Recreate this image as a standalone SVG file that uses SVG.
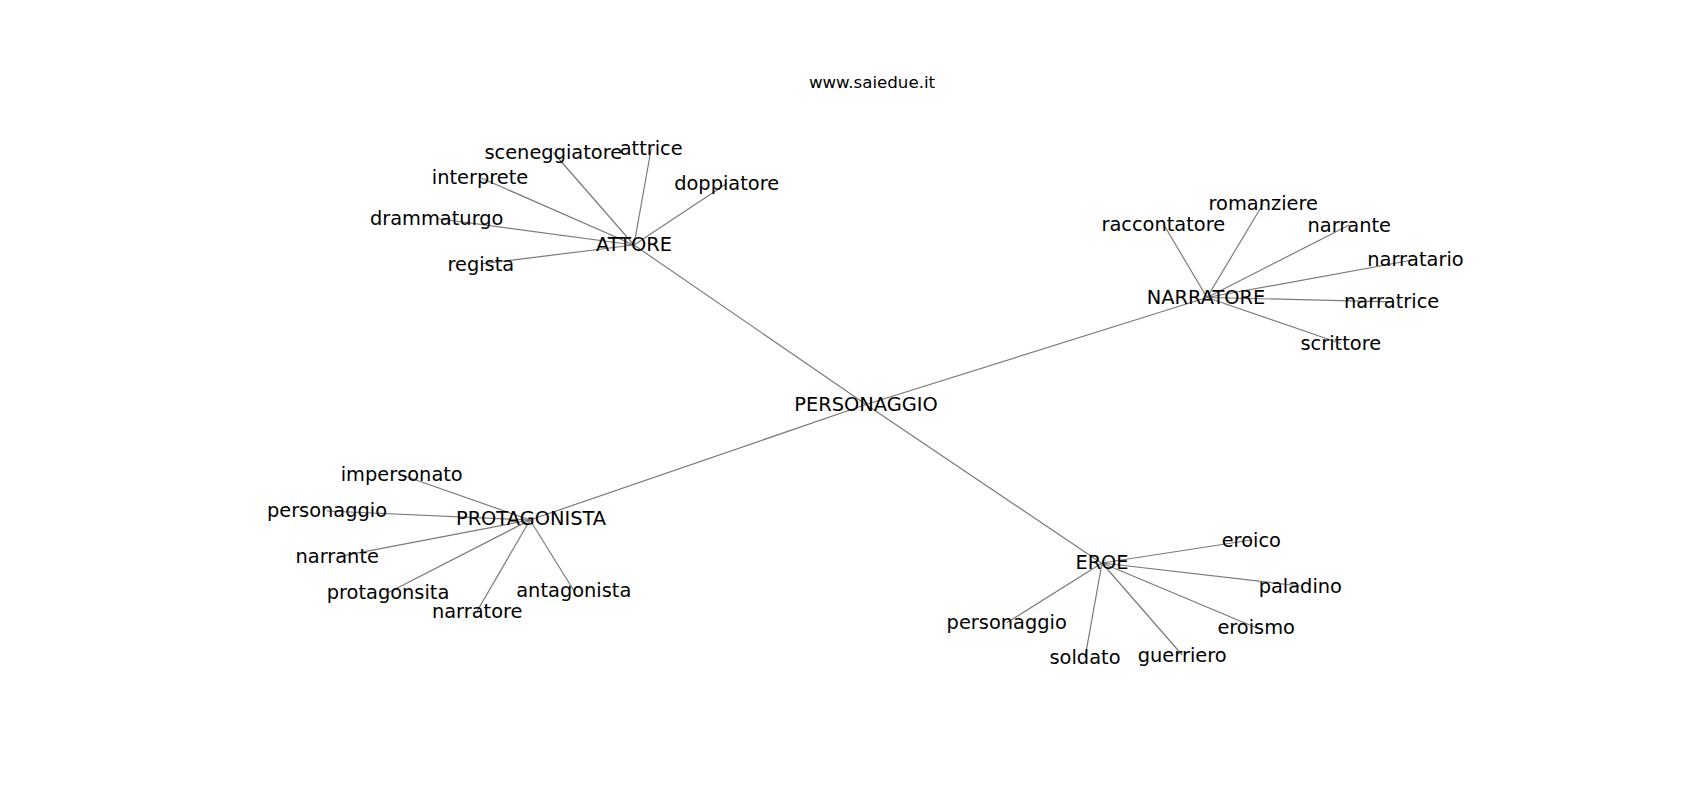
<svg xmlns="http://www.w3.org/2000/svg" width="1700" height="800" viewBox="0 0 1700 800">
<style>
text{font-family:"DejaVu Sans",sans-serif;fill:#000;text-anchor:middle}
.n{font-size:19.4px}
.t{font-size:16.67px}
#edges line{stroke:#7a7a7a;stroke-width:1.2}
</style>
<rect width="1700" height="800" fill="#fff"/>
<text class="t" x="872" y="88">www.saiedue.it</text>
<g id="edges">
<line x1="866" y1="404.5" x2="634" y2="245"/>
<line x1="866" y1="404.5" x2="1207" y2="297.5"/>
<line x1="866" y1="404.5" x2="530" y2="520"/>
<line x1="866" y1="404.5" x2="1102" y2="563.5"/>
<line x1="634" y1="245" x2="553.3" y2="152.5"/>
<line x1="634" y1="245" x2="651.2" y2="148.5"/>
<line x1="634" y1="245" x2="480" y2="177.5"/>
<line x1="634" y1="245" x2="726.7" y2="183.5"/>
<line x1="634" y1="245" x2="436.7" y2="218.5"/>
<line x1="634" y1="245" x2="480.8" y2="264"/>
<line x1="1207" y1="297.5" x2="1263.3" y2="203.5"/>
<line x1="1207" y1="297.5" x2="1163.3" y2="224"/>
<line x1="1207" y1="297.5" x2="1349.3" y2="225"/>
<line x1="1207" y1="297.5" x2="1415.5" y2="259.5"/>
<line x1="1207" y1="297.5" x2="1391.7" y2="301.8"/>
<line x1="1207" y1="297.5" x2="1340.8" y2="343.5"/>
<line x1="530" y1="520" x2="401.7" y2="475"/>
<line x1="530" y1="520" x2="327" y2="511"/>
<line x1="530" y1="520" x2="337.2" y2="556.8"/>
<line x1="530" y1="520" x2="388" y2="592.8"/>
<line x1="530" y1="520" x2="477.2" y2="611"/>
<line x1="530" y1="520" x2="573.8" y2="590.5"/>
<line x1="1102" y1="563" x2="1251.3" y2="540"/>
<line x1="1102" y1="563" x2="1300.3" y2="586"/>
<line x1="1102" y1="563" x2="1006.7" y2="622.8"/>
<line x1="1102" y1="563" x2="1256.2" y2="627.8"/>
<line x1="1102" y1="563" x2="1085" y2="657.8"/>
<line x1="1102" y1="563" x2="1182.2" y2="655"/>
</g>
<g id="n-personaggio-center"><text class="n" x="866" y="411">PERSONAGGIO</text></g>
<g id="n-attore"><text class="n" x="634" y="251">ATTORE</text></g>
<g id="n-narratore"><text class="n" x="1206" y="304">NARRATORE</text></g>
<g id="n-protagonista"><text class="n" x="531" y="525">PROTAGONISTA</text></g>
<g id="n-eroe"><text class="n" x="1102" y="569">EROE</text></g>
<g id="n-sceneggiatore"><text class="n" x="553.3" y="158.5">sceneggiatore</text></g>
<g id="n-attrice"><text class="n" x="651.2" y="155">attrice</text></g>
<g id="n-interprete"><text class="n" x="480" y="184">interprete</text></g>
<g id="n-doppiatore"><text class="n" x="726.7" y="190">doppiatore</text></g>
<g id="n-drammaturgo"><text class="n" x="436.7" y="225">drammaturgo</text></g>
<g id="n-regista"><text class="n" x="480.8" y="271">regista</text></g>
<g id="n-romanziere"><text class="n" x="1263.3" y="210">romanziere</text></g>
<g id="n-raccontatore"><text class="n" x="1163.3" y="230.5">raccontatore</text></g>
<g id="n-narrante1"><text class="n" x="1349.3" y="231.5">narrante</text></g>
<g id="n-narratario"><text class="n" x="1415.5" y="266">narratario</text></g>
<g id="n-narratrice"><text class="n" x="1391.7" y="308.3">narratrice</text></g>
<g id="n-scrittore"><text class="n" x="1340.8" y="350">scrittore</text></g>
<g id="n-impersonato"><text class="n" x="401.7" y="480.5">impersonato</text></g>
<g id="n-personaggio1"><text class="n" x="327" y="517">personaggio</text></g>
<g id="n-narrante2"><text class="n" x="337.2" y="563.3">narrante</text></g>
<g id="n-protagonsita"><text class="n" x="388" y="599.3">protagonsita</text></g>
<g id="n-narratore2"><text class="n" x="477.2" y="617.5">narratore</text></g>
<g id="n-antagonista"><text class="n" x="573.8" y="597">antagonista</text></g>
<g id="n-eroico"><text class="n" x="1251.3" y="546.5">eroico</text></g>
<g id="n-paladino"><text class="n" x="1300.3" y="592.5">paladino</text></g>
<g id="n-personaggio2"><text class="n" x="1006.7" y="629.3">personaggio</text></g>
<g id="n-eroismo"><text class="n" x="1256.2" y="634.3">eroismo</text></g>
<g id="n-soldato"><text class="n" x="1085" y="664.3">soldato</text></g>
<g id="n-guerriero"><text class="n" x="1182.2" y="661.5">guerriero</text></g>
</svg>
